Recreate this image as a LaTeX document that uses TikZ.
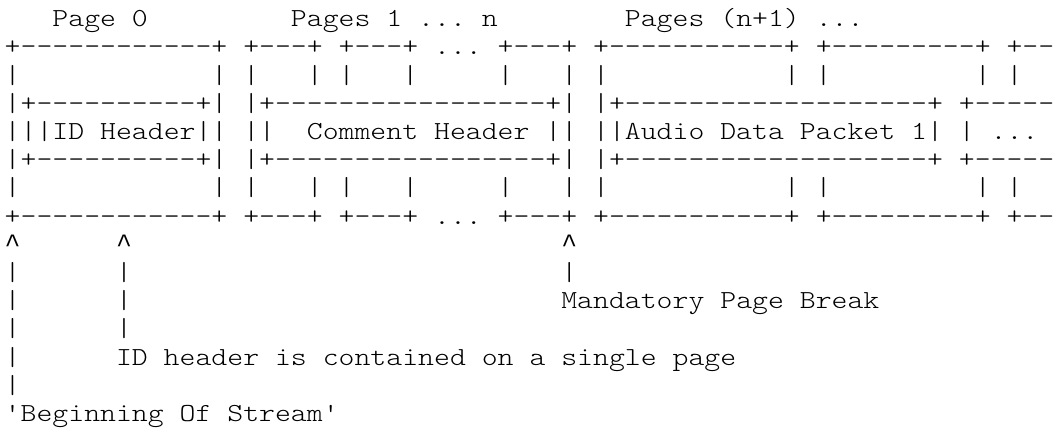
\documentclass[tikz,border=0pt]{standalone}
\usepackage{fontspec}
\setmonofont[FakeStretch=1.165]{Latin Modern Mono Light}
\newfontfamily\caretfont{Liberation Mono}
\usepackage{tikz}
\newcommand{\upmark}{{\caretfont\fontsize{13.25pt}{14pt}\selectfont\textasciicircum}}

\begin{document}
\begin{tikzpicture}[x=0.5pt, y=0.5pt,
		ascii/.style={anchor=base west, inner sep=0pt, outer sep=0pt,
			font=\ttfamily\fontsize{13pt}{14pt}\selectfont\frenchspacing}]
				\useasboundingbox (0,0) rectangle (1054,-444);
				% page labels
				\node[ascii] (row0) at (4.75,-26.7) {~~~Page~0~~~~~~~~~Pages~1~...~n~~~~~~~~Pages~(n+1)~...};
				% page and packet boxes
				\node[ascii] (row1) at (4.75,-54.9) {+------------+~+---+~+---+~...~+---+~+-----------+~+---------+~+--};
				\node[ascii] (row2) at (4.75,-83.1) {|~~~~~~~~~~~~|~|~~~|~|~~~|~~~~~|~~~|~|~~~~~~~~~~~|~|~~~~~~~~~|~|};
				\node[ascii] (row3) at (4.75,-111.3) {|+----------+|~|+-----------------+|~|+-------------------+~+-----};
				\node[ascii] (row4) at (4.75,-139.5) {|||ID~Header||~||~~Comment~Header~||~||Audio~Data~Packet~1|~|~...};
				\node[ascii] (row5) at (4.75,-167.7) {|+----------+|~|+-----------------+|~|+-------------------+~+-----};
				\node[ascii] (row6) at (4.75,-195.9) {|~~~~~~~~~~~~|~|~~~|~|~~~|~~~~~|~~~|~|~~~~~~~~~~~|~|~~~~~~~~~|~|};
				\node[ascii] (row7) at (4.75,-224.1) {+------------+~+---+~+---+~...~+---+~+-----------+~+---------+~+--};
				% pointers and notes
				\node[ascii] (row8) at (4.75,-252.3) {\upmark~~~~~~\upmark~~~~~~~~~~~~~~~~~~~~~~~~~~~\upmark};
				\node[ascii] (row9) at (4.75,-280.5) {|~~~~~~|~~~~~~~~~~~~~~~~~~~~~~~~~~~|};
				\node[ascii] (row10) at (4.75,-308.7) {|~~~~~~|~~~~~~~~~~~~~~~~~~~~~~~~~~~Mandatory~Page~Break};
				\node[ascii] (row11) at (4.75,-336.9) {|~~~~~~|};
				\node[ascii] (row12) at (4.75,-365.1) {|~~~~~~ID~header~is~contained~on~a~single~page};
				\node[ascii] (row13) at (4.75,-393.3) {|};
				\node[ascii] (row14) at (4.75,-421.5) {'Beginning~Of~Stream'};
			\end{tikzpicture}
\end{document}
